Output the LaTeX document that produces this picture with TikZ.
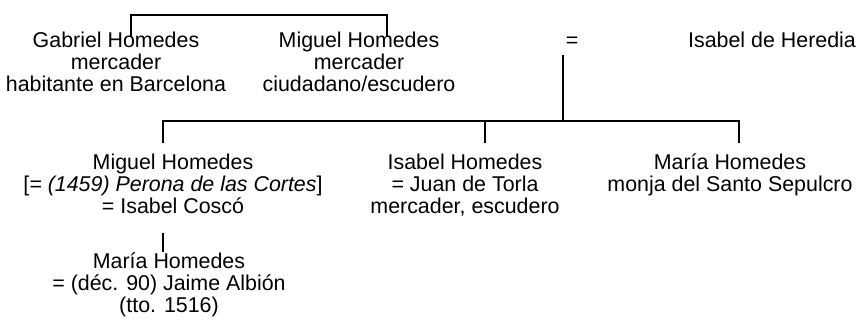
\documentclass[tikz,border=0pt]{standalone}
\usepackage{fontspec}
\setmainfont{Liberation Sans}
\usepackage{tikz}

\tikzset{
  person/.style={align=center, inner sep=0pt, anchor=base,
    font=\fontsize{21.4}{22}\selectfont},
  tree/.style={line width=1.6pt}
}

\begin{document}
\begin{tikzpicture}[x=1pt,y=-1pt]
\useasboundingbox (0,0) rectangle (858,320);

    % First generation: the two brothers, and the marriage
    \node[person] (gabriel) at (116,92) {Gabriel Homedes\\mercader\\habitante en Barcelona};
    \node[person] (miguel) at (359,92) {Miguel Homedes\\mercader\\ciudadano/escudero};
    \node[person] (eq) at (572,48) {=};
    \node[person] (heredia) at (772,48) {Isabel de Heredia};

    % Second generation
    \node[person] (miguelB) at (173,214) {Miguel Homedes\\{[}\textit{= (1459) Perona de las Cortes}{]}\\= Isabel Coscó};
    \node[person] (isabel) at (465,214) {Isabel Homedes\\= Juan de Torla\\mercader, escudero};
    \node[person] (maria) at (730,192) {María Homedes\\monja del Santo Sepulcro};

    % Third generation
    \node[person] (mariaB) at (169,312) {María Homedes\\= (déc. 90) Jaime Albión\\(tto. 1516)};

    % Points where the lines end
    \coordinate (gabtop) at (131,37);
    \coordinate (migtop) at (387,37);
    \coordinate (bros) at (259,15);
    \coordinate (eqdown) at (563,55);
    \coordinate (kids) at (563,121);
    \coordinate (migBtop) at (163,143);
    \coordinate (isatop) at (485,143);
    \coordinate (martop) at (739,143);
    \coordinate (migBdown) at (163,233);
    \coordinate (marBtop) at (163,252);

    % Draw the brothers
    \draw[tree] (gabtop) |- (bros) -| (migtop);

    % Draw the children of the marriage
    \draw[tree] (eqdown) -- (kids);
    \draw[tree] (migBtop) |- (kids) -| (martop);
    \draw[tree] (isatop) -- (isatop |- kids);

    % Draw the grandchild
    \draw[tree] (migBdown) -- (marBtop);

\end{tikzpicture}
\end{document}
